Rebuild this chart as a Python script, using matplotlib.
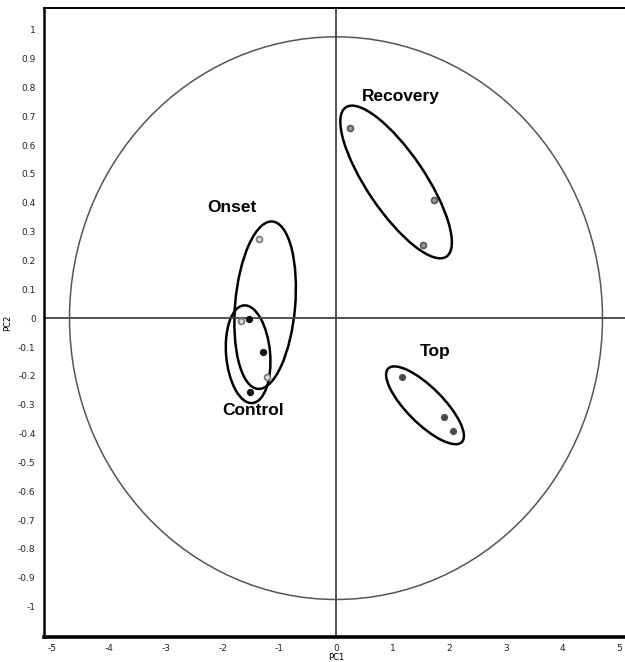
import matplotlib
matplotlib.use("Agg")
import matplotlib.pyplot as plt
from matplotlib.patches import Ellipse
from matplotlib.transforms import ScaledTranslation
import numpy as np

# ---- data ----
recovery_x = [0.25, 1.73, 1.53]
recovery_y = [0.66, 0.41, 0.253]
top_x = [1.16, 1.90, 2.06]
top_y = [-0.205, -0.344, -0.392]
onset_x = [-1.36, -1.68, -1.22]
onset_y = [0.274, -0.01, -0.205]
control_x = [-1.53, -1.29, -1.52]
control_y = [-0.003, -0.118, -0.257]

group_names = ["Recovery", "Top", "Onset", "Control"]
# ellipse centres (data) and label positions (data)
ell_cx = [1.06, 1.57, -1.25, -1.55]
ell_cy = [0.472, -0.302, 0.045, -0.125]
label_x = [1.15, 1.75, -1.83, -1.47]
label_y = [0.767, -0.115, 0.383, -0.32]

xticks = [-5, -4, -3, -2, -1, 0, 1, 2, 3, 4, 5]
yticks = [round(v, 1) for v in np.arange(-1.0, 1.01, 0.1)]
yticklabels = ["0" if abs(v) < 1e-9 else ("%g" % v) for v in yticks]

DPI = 100
fig = plt.figure(figsize=(6.25, 6.62), dpi=DPI)
ax = fig.add_axes([44/625, (662-637)/662, 584/625, 629/662])
ax.set_xlim(-5.15, 5.15)
ax.set_ylim(-1.105, 1.075)

# correlation circle
ax.add_patch(Ellipse((0, 0), 9.4, 1.95, fill=False, edgecolor="#555555", lw=1.1))
ax.axhline(0, color="#444444", lw=1.3)
ax.axvline(0, color="#444444", lw=1.3)

# group ellipses, sizes in pixels
ell_a = [90, 52, 84, 49]
ell_b = [29, 18, 30, 22]
ell_ang = [-56, -45, 85, 95]
for cx, cy, a, b, ang in zip(ell_cx, ell_cy, ell_a, ell_b, ell_ang):
    tr = fig.dpi_scale_trans + ScaledTranslation(cx, cy, ax.transData)
    ax.add_patch(Ellipse((0, 0), 2*a/DPI, 2*b/DPI, angle=ang, fill=False,
                         edgecolor="black", lw=1.8, transform=tr))

ax.scatter(recovery_x, recovery_y, s=18, facecolor="#9a9a9a", edgecolor="#555555", lw=1.2, zorder=5)
ax.scatter(top_x, top_y, s=18, facecolor="#444444", edgecolor="#555555", lw=1.0, zorder=5)
ax.scatter(onset_x, onset_y, s=18, facecolor="#dddddd", edgecolor="#777777", lw=1.2, zorder=5)
ax.scatter(control_x, control_y, s=18, facecolor="#111111", edgecolor="#111111", lw=1.0, zorder=5)

for name, lx, ly in zip(group_names, label_x, label_y):
    ax.text(lx, ly, name, ha="center", va="center", fontsize=12.5,
            fontweight="bold", family=["Liberation Sans", "DejaVu Sans"])

ax.set_xticks(xticks)
ax.set_xticklabels([str(v) for v in xticks])
ax.set_yticks(yticks)
ax.set_yticklabels(yticklabels)
ax.tick_params(axis="y", length=0, labelsize=6.5, pad=6)
ax.tick_params(axis="x", length=0, labelsize=6.5, pad=5)
for lab in ax.get_xticklabels() + ax.get_yticklabels():
    lab.set_family(["Liberation Sans Narrow", "DejaVu Sans"])
    lab.set_color("#222222")
ax.set_xlabel("PC1", fontsize=6, labelpad=0, family=["Liberation Sans Narrow", "DejaVu Sans"])
ax.set_ylabel("PC2", fontsize=6, labelpad=4, family=["Liberation Sans Narrow", "DejaVu Sans"])

ax.spines["left"].set_linewidth(1.8)
ax.spines["bottom"].set_linewidth(2.6)
ax.spines["top"].set_linewidth(1.4)
ax.spines["right"].set_visible(False)

fig.savefig("out.png", dpi=DPI)
